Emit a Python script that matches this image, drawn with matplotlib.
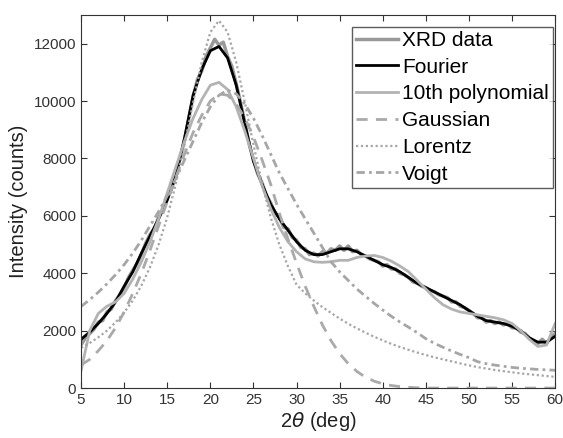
import numpy as np
import matplotlib
matplotlib.use("Agg")
import matplotlib.pyplot as plt

plt.rcParams['font.family'] = ['Liberation Sans', 'DejaVu Sans']

# angoli (2theta) per i fit, passo 1 grado
theta = np.arange(5, 61, 1)

# dati XRD misurati, passo 0.5 gradi
theta_xrd = np.arange(5, 60.5, 0.5)
xrd = [1500, 1750, 1900, 2050, 2300, 2350, 2650, 2750, 3050, 3250,
       3500, 3850, 4100, 4350, 4650, 5050, 5350, 5550, 5950, 6200,
       6600, 6950, 7450, 8000, 8650, 9400, 10150, 10750, 11050, 11550,
       11850, 12150, 11950, 12050, 11550, 11200, 10600, 9950, 9250, 8500,
       7950, 7450, 7150, 6700, 6450, 6100, 5950, 5600, 5550, 5250,
       5150, 4900, 4850, 4650, 4700, 4600, 4750, 4700, 4850, 4800,
       4950, 4800, 4950, 4750, 4800, 4650, 4600, 4500, 4450, 4400,
       4250, 4300, 4150, 4150, 4000, 3950, 3850, 3700, 3650, 3550,
       3500, 3400, 3350, 3250, 3200, 3150, 3000, 3000, 2850, 2800,
       2700, 2600, 2450, 2450, 2300, 2350, 2250, 2300, 2200, 2250,
       2100, 2100, 1950, 1900, 1750, 1650, 1550, 1700, 1550, 1750,
       1900]

fourier = [1700, 1950, 2250, 2600, 3000, 3550, 4050, 4700, 5300, 5900,
           6550, 7400, 8700, 10200, 11100, 11750, 11900, 11500, 10550, 9200,
           7900, 7100, 6400, 5900, 5500, 5100, 4800, 4650, 4650, 4750,
           4850, 4850, 4750, 4600, 4450, 4300, 4200, 4050, 3850, 3650,
           3500, 3350, 3200, 3050, 2900, 2700, 2500, 2350, 2300, 2250,
           2150, 2000, 1750, 1600, 1600, 1800]

poly10 = [600, 2000, 2600, 2850, 3000, 3300, 3800, 4400, 5100, 5900,
          6800, 7700, 8600, 9400, 10050, 10550, 10650, 10400, 9800, 8950,
          8000, 7050, 6250, 5600, 5100, 4750, 4500, 4400, 4380, 4400,
          4450, 4450, 4550, 4600, 4620, 4550, 4420, 4250, 4050, 3750,
          3450, 3150, 2900, 2750, 2650, 2600, 2550, 2500, 2450, 2380,
          2250, 2000, 1700, 1450, 1500, 2250]

gauss = [800, 1000, 1300, 1650, 2100, 2650, 3300, 4000, 4800, 5650,
         6500, 7350, 8150, 8900, 9500, 10000, 10250, 10200, 9900, 9400,
         8750, 7950, 7100, 6100, 5200, 4350, 3550, 2850, 2200, 1650,
         1200, 850, 580, 380, 240, 150, 90, 50, 25, 10,
         0, 0, 0, 0, 0, 0, 0, 0, 0, 0,
         0, 0, 0, 0, 0, 0]

lorentz = [1400, 1570, 1770, 2000, 2290, 2630, 3050, 3570, 4210, 5000,
           5950, 7120, 8480, 9950, 11350, 12400, 12800, 12400, 11350, 9950,
           8480, 7120, 5950, 5000, 4250, 3600, 3300, 3050, 2820, 2620,
           2420, 2240, 2080, 1930, 1790, 1660, 1540, 1430, 1330, 1240,
           1150, 1070, 1000, 930, 860, 790, 730, 680, 630, 590,
           550, 510, 480, 450, 420, 390]

voigt = [2840, 3080, 3340, 3630, 3950, 4300, 4700, 5150, 5650, 6150,
         6700, 7300, 7950, 8600, 9250, 9800, 10200, 10380, 10250, 9900,
         9400, 8800, 8150, 7500, 6950, 6400, 5900, 5400, 4900, 4400,
         4050, 3750, 3450, 3200, 2950, 2720, 2500, 2300, 2120, 1930,
         1720, 1560, 1420, 1290, 1170, 1060, 920, 850, 800, 760,
         720, 690, 670, 650, 635, 620]

fig = plt.figure(figsize=(5.63, 4.38), dpi=100)
ax = fig.add_axes([0.144, 0.114, 0.842, 0.852])

ax.plot(theta_xrd, xrd, color='#999999', lw=2.5, label='XRD data')
ax.plot(theta, fourier, color='black', lw=2, label='Fourier')
ax.plot(theta, poly10, color='#b3b3b3', lw=2, label='10th polynomial')
ax.plot(theta, gauss, color='#aaaaaa', lw=2, ls=(0, (4, 3)), label='Gaussian')
ax.plot(theta, lorentz, color='#a6a6a6', lw=1.6, ls=(0, (1, 1.2)), label='Lorentz')
ax.plot(theta, voigt, color='#a6a6a6', lw=2, ls=(0, (3, 1.5, 1, 1.5)), label='Voigt')

ax.set_xlim(5, 60)
ax.set_ylim(0, 13000)
ax.set_xticks(np.arange(5, 61, 5))
ax.set_yticks(np.arange(0, 12001, 2000))
ax.tick_params(direction='in', top=True, right=True, labelsize=11,
               colors='#333333', length=4)
for s in ax.spines.values():
    s.set_color('#333333')

ax.set_xlabel(r'2$\theta$ (deg)', fontsize=14.5, color='#222222', labelpad=2)
ax.set_ylabel('Intensity (counts)', fontsize=14.5, color='#222222')

leg = ax.legend(loc='upper right', fontsize=15, frameon=True, fancybox=False,
                edgecolor='#333333', handlelength=2.0, handletextpad=0.2,
                labelspacing=0.37, borderpad=0.2, borderaxespad=0,
                bbox_to_anchor=(0.996, 0.968))
leg.get_frame().set_linewidth(1.0)

plt.savefig("out.png", dpi=100)
